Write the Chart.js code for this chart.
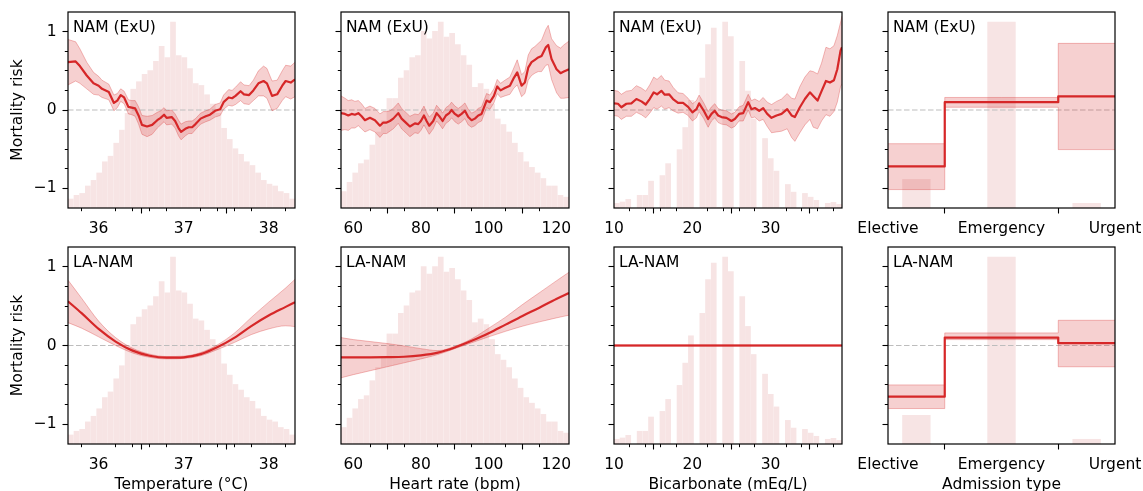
<!DOCTYPE html>
<html>
<head>
<meta charset="utf-8">
<script src="https://cdn.jsdelivr.net/npm/chart.js@4"></script>
<style>
  body { margin: 0; background: #fff; }
  #app { position: relative; width: 1143px; height: 491px; overflow: hidden; background: #fff; }
  #app canvas { position: absolute; }
</style>
</head>
<body>
<div id="app"></div>
<script>
// ---- shared y axis ----
const yMin = -1.25, yMax = 1.25;
const yTicks = [-1, 0, 1];
const yTickLabels = ["−1", "0", "1"];
const yMinorTicks = [-0.75, -0.5, -0.25, 0.25, 0.5, 0.75];

// ---- features: x axes + histograms (relative bin heights) ----
const tempRange = [35.64, 38.31];
const tempTicks = [36, 37, 38];
const tempMinorTicks = [35.8, 36.2, 36.4, 36.6, 36.8, 37.2, 37.4, 37.6, 37.8, 38.2];
const tempHist = [0.05, 0.07, 0.08, 0.12, 0.15, 0.19, 0.25, 0.28, 0.35, 0.42,
  0.51, 0.64, 0.68, 0.72, 0.74, 0.79, 0.87, 0.81, 1.0, 0.82,
  0.81, 0.75, 0.67, 0.66, 0.61, 0.56, 0.51, 0.43, 0.37, 0.32,
  0.29, 0.25, 0.23, 0.19, 0.15, 0.13, 0.12, 0.09, 0.08, 0.05];

const hrRange = [56.37, 123.75];
const hrTicks = [60, 80, 100, 120];
const hrMinorTicks = [65, 70, 75, 85, 90, 95, 105, 110, 115];
const hrHist = [0.09, 0.14, 0.19, 0.24, 0.26, 0.34, 0.41, 0.47, 0.59, 0.59,
  0.70, 0.74, 0.81, 0.82, 0.95, 0.91, 0.95, 1.0, 0.92, 0.94,
  0.88, 0.82, 0.77, 0.65, 0.67, 0.64, 0.56, 0.48, 0.45, 0.41,
  0.35, 0.30, 0.25, 0.22, 0.19, 0.16, 0.12, 0.12, 0.07, 0.06];

const bicRange = [10, 39.12];
const bicTicks = [10, 20, 30];
const bicMinorTicks = [12, 14, 16, 18, 22, 24, 26, 28, 32, 34, 36, 38];
const bicHist = [0.027, 0.034, 0.048, 0, 0.07, 0.07, 0.146, 0, 0.176, 0.24,
  0, 0.315, 0.434, 0.58, 0, 0.70, 0.88, 0.968, 0.005, 1.0,
  0.923, 0, 0.79, 0.63, 0.48, 0, 0.375, 0.267, 0.2, 0,
  0.128, 0.087, 0, 0.08, 0.06, 0.043, 0, 0.027, 0.032, 0.021];

const admRange = [0, 2];
const admTicks = [0, 1, 2];
const admCategories = ["Elective", "Emergency", "Urgent"];
const admHistCenters = [0.25, 1.0, 1.75];
const admHist = [0.155, 1.0, 0.027];

// ---- NAM (ExU) shape functions ----
const namTempX = [35.64, 35.73, 35.78, 35.86, 35.94, 36.00, 36.04, 36.12, 36.18, 36.22,
  36.26, 36.30, 36.35, 36.39, 36.43, 36.47, 36.51, 36.57, 36.63, 36.69,
  36.73, 36.77, 36.80, 36.86, 36.90, 36.94, 36.97, 37.02, 37.06, 37.10,
  37.14, 37.20, 37.26, 37.31, 37.37, 37.43, 37.47, 37.53, 37.57, 37.61,
  37.67, 37.71, 37.77, 37.82, 37.88, 37.94, 37.98, 38.04, 38.10, 38.16,
  38.20, 38.26, 38.31];
const namTempY = [0.61, 0.62, 0.56, 0.44, 0.34, 0.31, 0.27, 0.23, 0.09, 0.12,
  0.19, 0.16, 0.04, 0.03, 0.02, -0.07, -0.19, -0.21, -0.19, -0.13,
  -0.10, -0.06, -0.10, -0.09, -0.14, -0.23, -0.28, -0.24, -0.22, -0.22,
  -0.18, -0.11, -0.08, -0.06, -0.01, 0.01, 0.10, 0.16, 0.15, 0.18,
  0.24, 0.20, 0.19, 0.25, 0.34, 0.37, 0.34, 0.18, 0.20, 0.31,
  0.37, 0.35, 0.39];
const namTempLo = [0.32, 0.37, 0.34, 0.27, 0.20, 0.19, 0.16, 0.13, -0.01, 0.03,
  0.11, 0.08, -0.05, -0.06, -0.08, -0.18, -0.31, -0.34, -0.31, -0.23,
  -0.19, -0.15, -0.19, -0.18, -0.23, -0.33, -0.38, -0.33, -0.30, -0.30,
  -0.25, -0.18, -0.15, -0.13, -0.09, -0.07, 0.01, 0.06, 0.05, 0.07,
  0.12, 0.08, 0.07, 0.12, 0.18, 0.18, 0.15, -0.01, 0.02, 0.12,
  0.17, 0.14, 0.17];
const namTempHi = [0.90, 0.87, 0.78, 0.61, 0.48, 0.43, 0.38, 0.33, 0.19, 0.21,
  0.27, 0.24, 0.13, 0.12, 0.12, 0.04, -0.07, -0.08, -0.07, -0.03,
  -0.01, 0.03, -0.01, 0.00, -0.05, -0.13, -0.18, -0.15, -0.14, -0.14,
  -0.11, -0.04, -0.01, 0.01, 0.07, 0.09, 0.19, 0.26, 0.25, 0.29,
  0.36, 0.32, 0.31, 0.38, 0.50, 0.56, 0.53, 0.37, 0.38, 0.50,
  0.57, 0.56, 0.61];

const namHrX = [56.37, 57.54, 58.52, 59.51, 60.49, 61.48, 62.46, 63.45, 64.92, 66.40,
  67.88, 68.86, 69.85, 70.83, 71.82, 73.29, 74.28, 75.76, 76.74, 78.22,
  79.20, 79.99, 80.88, 81.66, 82.45, 83.63, 84.62, 85.60, 86.39, 87.38,
  88.36, 89.05, 90.03, 91.02, 92.00, 92.99, 93.97, 94.96, 95.94, 96.93,
  97.91, 99.39, 100.37, 101.56, 102.54, 103.53, 104.81, 106.28, 107.47, 108.45,
  109.73, 110.71, 111.70, 112.68, 113.67, 114.65, 115.64, 116.92, 117.61, 118.59,
  120.07, 121.25, 122.23, 123.75];
const namHrY = [-0.04, -0.05, -0.07, -0.05, -0.06, -0.04, -0.08, -0.13, -0.10, -0.13,
  -0.20, -0.16, -0.16, -0.14, -0.11, -0.04, -0.11, -0.17, -0.21, -0.17,
  -0.18, -0.14, -0.07, -0.14, -0.20, -0.14, -0.04, -0.09, -0.14, -0.07,
  -0.04, 0.00, -0.05, -0.08, -0.05, -0.01, -0.09, -0.13, -0.11, -0.07,
  -0.05, 0.12, 0.10, 0.18, 0.30, 0.25, 0.28, 0.31, 0.41, 0.48,
  0.31, 0.35, 0.54, 0.61, 0.64, 0.67, 0.69, 0.80, 0.83, 0.65,
  0.52, 0.47, 0.49, 0.52];
const namHrLo = [-0.26, -0.25, -0.26, -0.23, -0.23, -0.20, -0.24, -0.28, -0.25, -0.28,
  -0.35, -0.30, -0.30, -0.27, -0.24, -0.17, -0.24, -0.30, -0.34, -0.29,
  -0.30, -0.26, -0.19, -0.25, -0.31, -0.24, -0.14, -0.19, -0.24, -0.17,
  -0.14, -0.10, -0.15, -0.18, -0.15, -0.11, -0.19, -0.22, -0.20, -0.16,
  -0.14, 0.03, 0.01, 0.09, 0.21, 0.16, 0.18, 0.20, 0.28, 0.32,
  0.17, 0.21, 0.38, 0.44, 0.47, 0.49, 0.49, 0.57, 0.58, 0.39,
  0.22, 0.15, 0.15, 0.16];
const namHrHi = [0.18, 0.15, 0.12, 0.13, 0.11, 0.12, 0.08, 0.02, 0.05, 0.02,
  -0.05, -0.02, -0.02, -0.01, 0.02, 0.09, 0.02, -0.04, -0.08, -0.05,
  -0.06, -0.02, 0.05, -0.03, -0.09, -0.04, 0.06, 0.01, -0.04, 0.03,
  0.06, 0.10, 0.05, 0.02, 0.05, 0.09, 0.01, -0.04, -0.02, 0.02,
  0.04, 0.21, 0.19, 0.27, 0.39, 0.34, 0.38, 0.42, 0.54, 0.64,
  0.45, 0.49, 0.70, 0.78, 0.81, 0.85, 0.89, 1.03, 1.08, 0.91,
  0.82, 0.79, 0.83, 0.88];

const namBicX = [10.00, 10.51, 10.94, 11.58, 12.22, 12.86, 13.50, 14.05, 14.56, 15.07,
  15.50, 16.05, 16.48, 17.03, 17.54, 18.18, 18.82, 19.46, 20.02, 20.53,
  20.87, 21.47, 22.02, 22.45, 22.87, 23.30, 23.73, 24.36, 25.00, 25.43,
  25.98, 26.50, 27.14, 27.56, 27.99, 28.54, 29.05, 29.57, 30.12, 30.76,
  31.40, 32.12, 32.68, 33.10, 33.74, 34.38, 35.02, 35.45, 36.00, 36.51,
  37.07, 37.58, 38.09, 38.52, 38.94, 39.12];
const namBicY = [0.085, 0.08, 0.035, 0.08, 0.085, 0.14, 0.11, 0.07, 0.14, 0.225,
  0.20, 0.245, 0.195, 0.20, 0.14, 0.09, 0.09, 0.04, -0.03, 0.01,
  0.085, -0.01, -0.115, -0.05, -0.01, -0.07, -0.09, -0.10, -0.14, -0.115,
  -0.05, -0.04, 0.10, 0.01, 0.025, -0.01, 0.025, -0.05, -0.10, -0.07,
  -0.05, 0.01, -0.07, -0.09, 0.035, 0.14, 0.225, 0.18, 0.12, 0.24,
  0.37, 0.35, 0.38, 0.52, 0.76, 0.80];
const namBicLo = [-0.07, -0.08, -0.12, -0.08, -0.08, -0.03, -0.06, -0.10, -0.04, 0.03,
  0.01, 0.05, 0.01, 0.03, -0.01, -0.04, -0.03, -0.07, -0.14, -0.10,
  -0.02, -0.11, -0.22, -0.14, -0.10, -0.16, -0.18, -0.19, -0.23, -0.21,
  -0.14, -0.14, 0.00, -0.10, -0.09, -0.14, -0.12, -0.21, -0.29, -0.28,
  -0.27, -0.24, -0.35, -0.40, -0.29, -0.19, -0.12, -0.22, -0.24, -0.14,
  -0.06, -0.08, -0.02, 0.10, 0.30, 0.33];
const namBicHi = [0.25, 0.24, 0.20, 0.24, 0.25, 0.31, 0.28, 0.24, 0.32, 0.42,
  0.39, 0.44, 0.38, 0.37, 0.29, 0.22, 0.21, 0.15, 0.08, 0.12,
  0.19, 0.09, -0.02, 0.04, 0.08, 0.02, 0.00, -0.01, -0.05, -0.03,
  0.04, 0.06, 0.20, 0.12, 0.14, 0.11, 0.16, 0.10, 0.07, 0.11,
  0.14, 0.21, 0.15, 0.14, 0.30, 0.42, 0.50, 0.49, 0.46, 0.60,
  0.80, 0.78, 0.82, 0.95, 1.12, 1.20];

const admX = [0, 1, 2];
const namAdmY = [-0.72, 0.10, 0.175];
const namAdmLo = [-1.015, 0.035, -0.505];
const namAdmHi = [-0.43, 0.16, 0.85];

// ---- LA-NAM shape functions ----
const laTempX = [35.64, 35.8, 36.0, 36.2, 36.4, 36.6, 36.8, 37.0, 37.2, 37.4, 37.6, 37.8, 38.0, 38.2, 38.31];
const laTempY = [0.56, 0.41, 0.21, 0.05, -0.065, -0.13, -0.155, -0.15, -0.11, -0.02, 0.10, 0.25, 0.38, 0.49, 0.55];
const laTempLo = [0.29, 0.22, 0.11, 0.00, -0.095, -0.15, -0.17, -0.165, -0.13, -0.05, 0.04, 0.14, 0.21, 0.25, 0.24];
const laTempHi = [0.83, 0.60, 0.31, 0.10, -0.035, -0.11, -0.14, -0.135, -0.09, 0.01, 0.16, 0.36, 0.55, 0.73, 0.84];

const laHrX = [56.37, 60, 65, 70, 75, 80, 85, 90, 95, 100, 105, 110, 115, 120, 123.75];
const laHrY = [-0.15, -0.15, -0.15, -0.148, -0.143, -0.125, -0.09, -0.025, 0.06, 0.155, 0.265, 0.375, 0.48, 0.59, 0.665];
const laHrLo = [-0.41, -0.37, -0.32, -0.27, -0.22, -0.17, -0.115, -0.04, 0.035, 0.11, 0.18, 0.245, 0.30, 0.35, 0.385];
const laHrHi = [0.10, 0.075, 0.05, 0.025, -0.005, -0.04, -0.065, -0.01, 0.085, 0.22, 0.36, 0.52, 0.67, 0.82, 0.93];

const laBicX = [10, 39.12];
const laBicY = [0, 0];
const laBicLo = [-0.01, -0.01];
const laBicHi = [0.01, 0.01];

const laAdmY = [-0.65, 0.10, 0.03];
const laAdmLo = [-0.80, 0.075, -0.27];
const laAdmHi = [-0.50, 0.16, 0.32];

// ---- style ----
const RED = "#d62728";
const BAND = "rgba(214, 39, 40, 0.22)";
const BAND_EDGE = "rgba(214, 39, 40, 0.3)";
const HIST = "#f7e4e4";
const ZERO = "#bdbdbd";
const FONT_SIZE = 15.5;

Chart.defaults.font.family = "'DejaVu Sans', sans-serif";
Chart.defaults.font.size = FONT_SIZE;
Chart.defaults.color = "#000";

function binCenters(range, n) {
    const w = (range[1] - range[0]) / n;
    return Array.from({ length: n }, (_, i) => range[0] + (i + 0.5) * w);
}

function points(xs, ys) {
    return xs.map((x, i) => ({ x: x, y: ys[i] }));
}

const features = [
    { title: "Temperature (°C)", range: tempRange, ticks: tempTicks, labels: tempTicks.map(String), minor: tempMinorTicks, hist: tempHist, centers: binCenters(tempRange, tempHist.length), barPct: 1 },
    { title: "Heart rate (bpm)", range: hrRange, ticks: hrTicks, labels: hrTicks.map(String), minor: hrMinorTicks, hist: hrHist, centers: binCenters(hrRange, hrHist.length), barPct: 1 },
    { title: "Bicarbonate (mEq/L)", range: bicRange, ticks: bicTicks, labels: bicTicks.map(String), minor: bicMinorTicks, hist: bicHist, centers: binCenters(bicRange, bicHist.length), barPct: 1 },
    { title: "Admission type", range: admRange, ticks: admTicks, labels: admCategories, minor: [], hist: admHist, centers: admHistCenters, barPct: 1 / 3 },
];

const rows = [
    { label: "NAM (ExU)", curves: [
        { x: namTempX, y: namTempY, lo: namTempLo, hi: namTempHi, mode: "linear" },
        { x: namHrX, y: namHrY, lo: namHrLo, hi: namHrHi, mode: "linear" },
        { x: namBicX, y: namBicY, lo: namBicLo, hi: namBicHi, mode: "linear" },
        { x: admX, y: namAdmY, lo: namAdmLo, hi: namAdmHi, mode: "step" },
    ] },
    { label: "LA-NAM", curves: [
        { x: laTempX, y: laTempY, lo: laTempLo, hi: laTempHi, mode: "smooth" },
        { x: laHrX, y: laHrY, lo: laHrLo, hi: laHrHi, mode: "smooth" },
        { x: laBicX, y: laBicY, lo: laBicLo, hi: laBicHi, mode: "linear" },
        { x: admX, y: laAdmY, lo: laAdmLo, hi: laAdmHi, mode: "step" },
    ] },
];

// plot area of each panel on the page
const colLeft = [68, 341, 614, 888];
const colRight = [295, 569, 842, 1115];
const rowTop = [12, 247];
const rowBottom = [208, 444];
const PAD_T = 30, PAD_R = 40;

const framePlugin = {
    id: "frame",
    afterDraw(chart) {
        const { ctx, chartArea: a } = chart;
        ctx.save();
        ctx.strokeStyle = "#000";
        ctx.lineWidth = 1.2;
        ctx.strokeRect(a.left, a.top, a.right - a.left, a.bottom - a.top);
        ctx.restore();
    }
};

const labelPlugin = {
    id: "panelLabel",
    afterDatasetsDraw(chart, args, opts) {
        const { ctx, chartArea: a } = chart;
        ctx.save();
        ctx.font = FONT_SIZE + "px 'DejaVu Sans', sans-serif";
        ctx.fillStyle = "#000";
        ctx.textBaseline = "alphabetic";
        ctx.fillText(opts.text, a.left + 5, a.top + 19.5);
        ctx.restore();
    }
};

function curveDatasets(curve) {
    let shape = { tension: 0 };
    if (curve.mode === "smooth") shape = { cubicInterpolationMode: "monotone" };
    if (curve.mode === "step") shape = { stepped: "middle" };
    const base = { type: "line", pointRadius: 0, borderJoinStyle: "round", ...shape };
    return [
        { ...base, data: points(curve.x, curve.lo), borderColor: BAND_EDGE, borderWidth: 1, fill: false, order: 2 },
        { ...base, data: points(curve.x, curve.hi), borderColor: BAND_EDGE, borderWidth: 1, fill: "-1", backgroundColor: BAND, order: 1 },
        { ...base, data: points(curve.x, curve.y), borderColor: RED, borderWidth: 2.2, fill: false, order: 0 },
    ];
}

function makePanel(r, c) {
    const f = features[c];
    const curve = rows[r].curves[c];
    const padL = c === 0 ? 68 : 40;
    const padB = r === 0 ? 32 : 52;
    const plotW = colRight[c] - colLeft[c];
    const plotH = rowBottom[r] - rowTop[r];

    const canvas = document.createElement("canvas");
    canvas.width = padL + plotW + PAD_R;
    canvas.height = PAD_T + plotH + padB;
    canvas.style.left = (colLeft[c] - padL) + "px";
    canvas.style.top = (rowTop[r] - PAD_T) + "px";
    document.getElementById("app").appendChild(canvas);

    const histScale = 0.95 * (yMax - yMin);
    const hist = {
        type: "bar",
        data: f.centers.map((x, i) => ({ x: x, y: yMin + f.hist[i] * histScale })),
        base: yMin,
        backgroundColor: HIST,
        borderWidth: 0,
        barPercentage: f.barPct,
        categoryPercentage: 1,
        inflateAmount: 0,
        grouped: false,
        order: 4,
    };
    const zero = {
        type: "line",
        data: [{ x: f.range[0], y: 0 }, { x: f.range[1], y: 0 }],
        borderColor: ZERO,
        borderWidth: 1.2,
        borderDash: [5.5, 2.5],
        pointRadius: 0,
        fill: false,
        order: 3,
    };

    const scales = {
        x: {
            type: "linear", min: f.range[0], max: f.range[1], bounds: "data", offset: false, weight: 1,
            afterBuildTicks: (s) => { s.ticks = f.ticks.map((v) => ({ value: v })); },
            afterFit: (s) => { s.height = padB; },
            ticks: { autoSkip: false, maxRotation: 0, padding: 6, callback: (v, i) => f.labels[i] },
            grid: { drawOnChartArea: false, tickLength: 5.5, tickColor: "#000", tickWidth: 1.1 },
            border: { display: false },
            title: { display: r === 1, text: f.title, padding: { top: 0, bottom: 2 } },
        },
        y: {
            type: "linear", position: "left", min: yMin, max: yMax, bounds: "data", weight: 1,
            afterBuildTicks: (s) => { s.ticks = yTicks.map((v) => ({ value: v })); },
            afterFit: (s) => { s.width = padL; },
            ticks: { display: c === 0, padding: 6, callback: (v, i) => yTickLabels[i] },
            grid: { drawOnChartArea: false, tickLength: 5.5, tickColor: "#000", tickWidth: 1.1 },
            border: { display: false },
            title: { display: c === 0, text: "Mortality risk", padding: { top: 9, bottom: 0 } },
        },
        yMinor: {
            type: "linear", position: "left", min: yMin, max: yMax, bounds: "data", weight: 0,
            afterBuildTicks: (s) => { s.ticks = yMinorTicks.map((v) => ({ value: v })); },
            afterFit: (s) => { s.width = 0; },
            ticks: { display: false },
            grid: { drawOnChartArea: false, tickLength: 3.2, tickColor: "#000", tickWidth: 1 },
            border: { display: false },
        },
    };
    if (f.minor.length) {
        scales.xMinor = {
            type: "linear", position: "bottom", min: f.range[0], max: f.range[1], bounds: "data", offset: false, weight: 0,
            afterBuildTicks: (s) => { s.ticks = f.minor.map((v) => ({ value: v })); },
            afterFit: (s) => { s.height = 0; },
            ticks: { display: false },
            grid: { drawOnChartArea: false, tickLength: 3.2, tickColor: "#000", tickWidth: 1 },
            border: { display: false },
        };
    }

    new Chart(canvas, {
        type: "line",
        data: { datasets: [hist, zero, ...curveDatasets(curve)] },
        options: {
            responsive: false,
            animation: false,
            events: [],
            layout: { padding: { left: 0, top: PAD_T, right: PAD_R, bottom: 0 } },
            plugins: {
                legend: { display: false },
                tooltip: { enabled: false },
                panelLabel: { text: rows[r].label },
            },
            scales: scales,
        },
        plugins: [framePlugin, labelPlugin],
    });
}

for (let r = 0; r < rows.length; r++) {
    for (let c = 0; c < features.length; c++) {
        makePanel(r, c);
    }
}
</script>
</body>
</html>
